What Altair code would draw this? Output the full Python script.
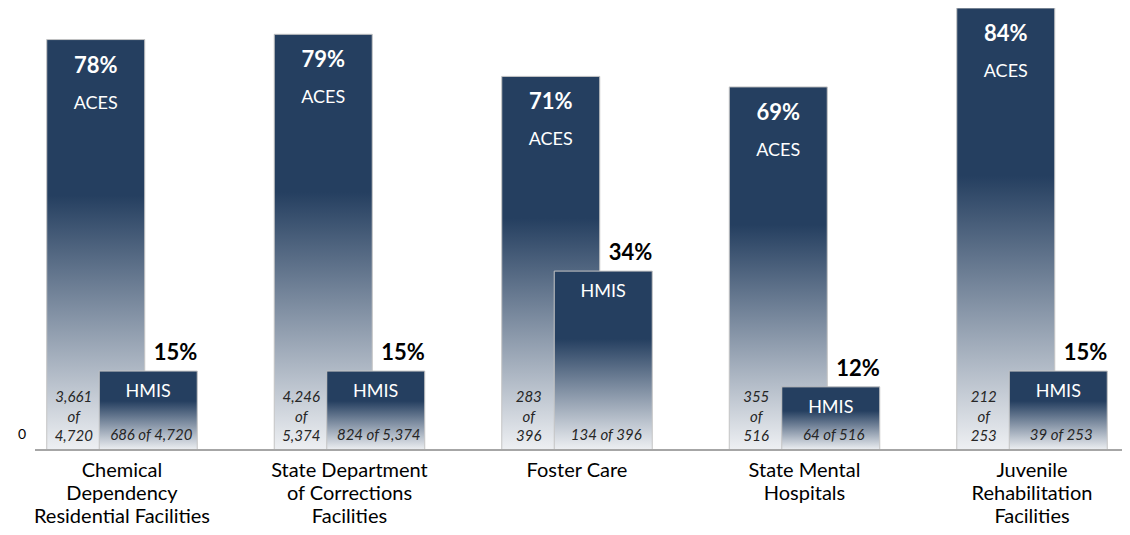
import altair as alt
import pandas as pd

# ---- data ----
category_lines = [
    ["Chemical", "Dependency", "Residential Facilities"],
    ["State Department", "of Corrections", "Facilities"],
    ["Foster Care"],
    ["State Mental", "Hospitals"],
    ["Juvenile", "Rehabilitation", "Facilities"],
]
aces_pct = [78, 79, 71, 69, 84]
hmis_pct = [15, 15, 34, 12, 15]
aces_count = ["3,661", "4,246", "283", "355", "212"]
hmis_count = ["686", "824", "134", "64", "39"]
totals = ["4,720", "5,374", "396", "516", "253"]

categories = ["|".join(c) for c in category_lines]

rows = []
for i, cat in enumerate(categories):
    rows.append(dict(cat=cat, series="ACES", pct=aces_pct[i], pct_label=f"{aces_pct[i]}%",
                     count_label=f"{aces_count[i]}\nof\n{totals[i]}"))
    rows.append(dict(cat=cat, series="HMIS", pct=hmis_pct[i], pct_label=f"{hmis_pct[i]}%",
                     count_label=f"{hmis_count[i]} of {totals[i]}"))
df = pd.DataFrame(rows)
one = pd.DataFrame({"z": [0]})

FONT = "Lato"
DARK = "#253F60"
grad = alt.Gradient(
    gradient="linear", x1=0, x2=0, y1=0, y2=1,
    stops=[alt.GradientStop(color=DARK, offset=0),
           alt.GradientStop(color=DARK, offset=0.38),
           alt.GradientStop(color="#EEF0F3", offset=1)],
)

x_enc = alt.X("cat:N", sort=categories,
              scale=alt.Scale(paddingInner=0.3407, paddingOuter=0.0527),
              axis=alt.Axis(title=None, domain=False, ticks=False,
                            labelExpr="split(datum.label, '|')",
                            labelFontSize=20, labelFont=FONT, labelColor="#000000",
                            labelLineHeight=23, labelPadding=10, labelLimit=400,
                            labelAngle=0, labelBaseline="top"))
xo_enc = alt.XOffset("series:N", sort=["ACES", "HMIS"],
                     scale=alt.Scale(domain=["ACES", "HMIS"], paddingInner=0, paddingOuter=0.4286))
y_scale = alt.Scale(domain=[0, 84], nice=False, zero=True)

base = alt.Chart(df).encode(x=x_enc, xOffset=xo_enc)

bars = base.mark_bar(width=98, color=grad, stroke="#C4C4C4", strokeWidth=1).encode(
    y=alt.Y("pct:Q", scale=y_scale, axis=None)
)

aces = base.transform_filter("datum.series == 'ACES'")
hmis = base.transform_filter("datum.series == 'HMIS'")

aces_pct_t = aces.mark_text(font=FONT, fontSize=22, fontWeight="bold", color="white",
                            baseline="middle", dy=26).encode(
    y=alt.Y("pct:Q", scale=y_scale), text="pct_label:N")
aces_name_t = aces.mark_text(font=FONT, fontSize=18, color="white",
                             baseline="middle", dy=64).encode(
    y=alt.Y("pct:Q", scale=y_scale), text=alt.value("ACES"))
aces_cnt_t = aces.mark_text(font=FONT, fontSize=15, fontStyle="italic", color="#262626",
                            baseline="middle", dx=-22, dy=-53, lineBreak="\n",
                            lineHeight=19.5).encode(
    y=alt.datum(0, scale=y_scale), text="count_label:N")

hmis_name_t = hmis.mark_text(font=FONT, fontSize=18, color="white",
                             baseline="middle", dy=21).encode(
    y=alt.Y("pct:Q", scale=y_scale), text=alt.value("HMIS"))
hmis_pct_t = hmis.mark_text(font=FONT, fontSize=22, fontWeight="bold", color="black",
                            align="right", baseline="middle", dx=49, dy=-18).encode(
    y=alt.Y("pct:Q", scale=y_scale), text="pct_label:N")
hmis_cnt_t = hmis.mark_text(font=FONT, fontSize=15, fontStyle="italic", color="#262626",
                            baseline="middle", dx=3, dy=-15).encode(
    y=alt.datum(0, scale=y_scale), text="count_label:N")

baseline_rule = alt.Chart(one).mark_rule(color="#A6A6A6", strokeWidth=2).encode(
    x=alt.value(0), x2=alt.value(1087), y=alt.value(442))
zero_t = alt.Chart(one).mark_text(font=FONT, fontSize=14, color="black").encode(
    x=alt.value(-13), y=alt.value(427), text=alt.value("0"))

chart = alt.layer(
    bars, aces_pct_t, aces_name_t, aces_cnt_t,
    hmis_name_t, hmis_pct_t, hmis_cnt_t, baseline_rule, zero_t
).properties(
    width=1084, height=442,
    autosize=alt.AutoSizeParams(type="none"),
    padding={"left": 27, "top": 0, "right": 3, "bottom": 77},
).configure(background="white").configure_view(stroke="transparent", strokeWidth=0)

chart.save("out.html", embed_options={"renderer": "svg", "actions": False})
